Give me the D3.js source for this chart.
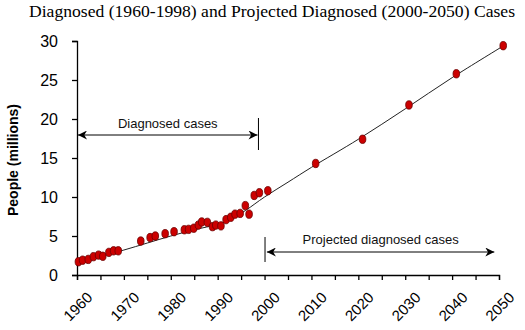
<!DOCTYPE html>
<html>
<head>
<meta charset="utf-8">
<script src="https://cdn.jsdelivr.net/npm/d3@7"></script>
<style>
  body { margin: 0; background: #fff; }
  svg { display: block; }
  .tick text { font-family: Arial, "Liberation Sans", sans-serif; }
</style>
</head>
<body>
<svg id="chart" width="525" height="330"></svg>
<script>
// diagnosed cases, 1960-1998 (millions)
var obsYears = [1960.3, 1961.2, 1962.4, 1963.5, 1964.6, 1965.5, 1966.8, 1967.8, 1968.8,
                1973.6, 1975.6, 1976.7, 1978.8, 1980.7, 1982.9, 1983.8, 1984.9, 1985.9,
                1986.6, 1987.8, 1988.9, 1989.6, 1990.7, 1991.8, 1992.8, 1993.7, 1994.8,
                1995.9, 1996.7, 1997.8, 1998.9];
var obsValues = [1.7, 1.9, 2.0, 2.35, 2.55, 2.4, 2.9, 3.1, 3.1,
                 4.35, 4.8, 5.0, 5.3, 5.55, 5.8, 5.85, 6.0, 6.4,
                 6.8, 6.75, 6.2, 6.4, 6.3, 7.1, 7.4, 7.8, 7.9,
                 8.9, 7.8, 10.2, 10.55];

// projected diagnosed cases, 2000-2050
var projYears = [2000.7, 2010.9, 2020.9, 2030.8, 2040.9, 2050.9];
var projValues = [10.8, 14.3, 17.4, 21.8, 25.8, 29.4];

// fitted trend
var trendYears = [1960, 1965, 1970, 1975, 1980, 1985, 1990, 1993, 1996, 2000, 2005, 2010, 2020, 2030, 2040, 2051];
var trendValues = [1.6, 2.4, 3.2, 4.1, 5.0, 5.8, 6.5, 7.2, 8.3, 10.0, 11.9, 13.8, 17.4, 21.3, 25.3, 29.4];

var xTicks = [1960, 1970, 1980, 1990, 2000, 2010, 2020, 2030, 2040, 2050];
var yTicks = [0, 5, 10, 15, 20, 25, 30];

var svg = d3.select("#chart");

var x = d3.scaleLinear().domain([1960, 2050]).range([77, 499]);
var y = d3.scaleLinear().domain([0, 30]).range([275, 41]);

// title
svg.append("text")
    .attr("x", 272)
    .attr("y", 17)
    .attr("text-anchor", "middle")
    .attr("textLength", 486)
    .attr("lengthAdjust", "spacingAndGlyphs")
    .style("font-family", "'Liberation Serif', 'Times New Roman', serif")
    .style("font-size", "16.5px")
    .text("Diagnosed (1960-1998) and Projected Diagnosed (2000-2050) Cases");

// y axis
var yAxis = svg.append("g")
    .attr("transform", "translate(" + x.range()[0] + ",0)")
    .call(d3.axisLeft(y).tickValues(yTicks).tickSize(5).tickPadding(14));
yAxis.selectAll("text").style("font-size", "16px").attr("fill", "#000");
yAxis.selectAll("line, path").attr("stroke", "#000").attr("stroke-width", 1.3);

svg.append("text")
    .attr("transform", "translate(18,160) rotate(-90)")
    .attr("text-anchor", "middle")
    .style("font-family", "Arial, 'Liberation Sans', sans-serif")
    .style("font-size", "14px")
    .style("font-weight", "bold")
    .text("People (millions)");

// x axis, minor ticks every 5 years
var xAxis = svg.append("g")
    .attr("transform", "translate(0," + y(0) + ")")
    .call(d3.axisBottom(x).tickValues(d3.range(1960, 2051, 5)).tickSize(5).tickFormat(""));
xAxis.selectAll("line, path").attr("stroke", "#000").attr("stroke-width", 1.3);

svg.append("g").selectAll("text")
    .data(xTicks)
    .join("text")
    .attr("transform", function(d) { return "translate(" + (x(d) + 9) + "," + (y(0) + 16) + ") rotate(-45)"; })
    .attr("text-anchor", "end")
    .attr("dy", "0.7em")
    .style("font-family", "Arial, 'Liberation Sans', sans-serif")
    .style("font-size", "15px")
    .text(function(d) { return d; });

// trend line
var line = d3.line()
    .x(function(d, i) { return x(trendYears[i]); })
    .y(function(d) { return y(d); })
    .curve(d3.curveCatmullRom);

svg.append("path")
    .datum(trendValues)
    .attr("fill", "none")
    .attr("stroke", "#222")
    .attr("stroke-width", 1)
    .attr("d", line);

// points
var pts = obsYears.map(function(d, i) { return [d, obsValues[i]]; })
    .concat(projYears.map(function(d, i) { return [d, projValues[i]]; }));

svg.append("g").selectAll("ellipse")
    .data(pts)
    .join("ellipse")
    .attr("cx", function(d) { return x(d[0]); })
    .attr("cy", function(d) { return y(d[1]); })
    .attr("rx", 3.3)
    .attr("ry", 4.2)
    .attr("fill", "#cc0000")
    .attr("stroke", "#6a0000")
    .attr("stroke-width", 0.8);

// arrowheads
var defs = svg.append("defs");
defs.append("marker")
    .attr("id", "arrow")
    .attr("viewBox", "0 0 10 10")
    .attr("refX", 10)
    .attr("refY", 5)
    .attr("markerWidth", 10)
    .attr("markerHeight", 9)
    .attr("markerUnits", "userSpaceOnUse")
    .attr("orient", "auto-start-reverse")
    .append("path")
    .attr("d", "M0,0 L10,5 L0,10 L3,5 Z")
    .attr("fill", "#000");

function span(x0, x1, yy, barTop, barBottom, barX, label, labelY) {
    var g = svg.append("g");
    g.append("line")
        .attr("x1", barX).attr("x2", barX)
        .attr("y1", barTop).attr("y2", barBottom)
        .attr("stroke", "#000");
    g.append("line")
        .attr("x1", x0).attr("x2", x1)
        .attr("y1", yy).attr("y2", yy)
        .attr("stroke", "#000")
        .attr("marker-start", "url(#arrow)")
        .attr("marker-end", "url(#arrow)");
    g.append("text")
        .attr("x", (x0 + x1) / 2)
        .attr("y", labelY)
        .attr("text-anchor", "middle")
        .style("font-family", "Arial, 'Liberation Sans', sans-serif")
        .style("font-size", "13px")
        .attr("fill", "#111")
        .text(label);
}

span(x(1960) + 1, x(1998.5), 135, 118, 150, x(1998.7), "Diagnosed cases", 128);
span(x(2000.5), x(2049), 252, 237, 262, x(2000.1), "Projected diagnosed cases", 244);
</script>
</body>
</html>
